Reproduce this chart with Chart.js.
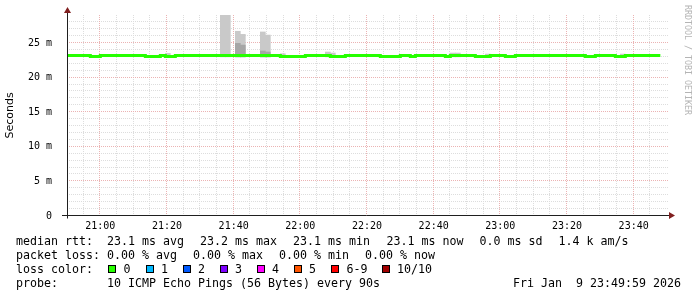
<!DOCTYPE html>
<html><head><meta charset="utf-8">
<script src="https://cdn.jsdelivr.net/npm/chart.js@4/dist/chart.umd.min.js"></script>
<style>
html,body{margin:0;padding:0;background:#fff;}
#wrap{position:relative;width:697px;height:297px;overflow:hidden;background:#fff;}
canvas{position:absolute;left:0;top:0;}
.t{position:absolute;font-family:"DejaVu Sans Mono",monospace;font-size:11.63px;line-height:14px;white-space:pre;color:#000;}
.box{position:absolute;width:6px;height:6px;border:1px solid #000;}
#wm{position:absolute;left:683px;top:5px;writing-mode:vertical-rl;font-family:"DejaVu Sans Mono",monospace;font-size:8.3px;line-height:10px;color:#b4b4b4;white-space:pre;}
</style></head><body>
<div id="wrap"><canvas id="c" width="697" height="297"></canvas>
<div id="wm">RRDTOOL / TOBI OETIKER</div>
<div id="legend"></div>
</div>
<script>
// ---- data (time = minutes since midnight, values in ms) ----
const medianTimes  = [1250, 1257, 1260, 1273.5, 1278, 1279.5, 1282.5, 1314, 1321.5, 1329, 1333.5, 1344, 1350, 1353, 1354.5, 1363.5, 1365, 1372.5, 1377, 1381.5, 1384.5, 1405.5, 1408.5, 1414.5, 1417.5, 1428];
const medianValues = [23.19, 23.05, 23.19, 23.05, 23.19, 23.05, 23.19, 23.05, 23.19, 23.05, 23.19, 23.05, 23.19, 23.05, 23.19, 23.05, 23.19, 23.05, 23.19, 23.05, 23.19, 23.05, 23.19, 23.05, 23.19, 23.19];

const smokeTimes = [1280.25, 1296.75, 1298.25, 1301.25, 1302.75, 1308.75, 1310.25, 1314.75, 1328.25, 1329.75, 1365.75, 1367.25, 1376.25, 1416.75];
const smokeLow   = [23.0, 23.0, 23.0, 23.0, 23.0, 23.0, 23.0, 23.0, 23.0, 23.0, 23.0, 23.0, 23.0, 23.0];
const smokeHigh  = [23.5, 29.4, 29.4, 26.7, 26.25, 26.6, 26.15, 23.45, 23.7, 23.55, 23.55, 23.55, 23.4, 23.4];
const smokeMid   = [null, null, null, 24.95, 24.7, 23.85, 23.7, null, null, null, null, null, null, null];

const xTickValues = [1260, 1280, 1300, 1320, 1340, 1360, 1380, 1400, 1420];
const xTickLabels = ['21:00', '21:20', '21:40', '22:00', '22:20', '22:40', '23:00', '23:20', '23:40'];
const yTickValues = [0, 5, 10, 15, 20, 25];
const yTickLabels = ['0', '5 m', '10 m', '15 m', '20 m', '25 m'];

const rttLabels  = ['median rtt:', '23.1 ms avg', '23.2 ms max', '23.1 ms min', '23.1 ms now', '0.0 ms sd', '1.4 k am/s'];
const lossLabels = ['packet loss:', '0.00 % avg', '0.00 % max', '0.00 % min', '0.00 % now'];
const lossColorNames  = ['0', '1', '2', '3', '4', '5', '6-9', '10/10'];
const lossColorValues = ['#26ff00', '#00b8ff', '#0059ff', '#7e00ff', '#ff00ff', '#ff5500', '#ff0000', '#a10000'];
const probeLabels = ['probe:', '10 ICMP Echo Pings (56 Bytes) every 90s'];
const dateLabel = 'Fri Jan  9 23:49:59 2026';

// ---- layout (pixel positions of legend items) ----
const rttX  = [16, 107, 200, 293, 386.5, 479.5, 558.5];
const lossX = [16, 107, 193, 279, 365];
const boxX  = [108, 145.5, 182.5, 219.5, 256.5, 293.5, 331, 381.5];
const rowTop = [234, 248, 262, 276];

const MINOR = '#dddddd', MAJOR = '#ebb3b3', AXIS = '#1f1f1f', ARROW = '#801f1f';

// ---- legend as HTML text ----
const lg = document.getElementById('legend');
function addText(txt, x, y, right) {
  const d = document.createElement('div');
  d.className = 't'; d.textContent = txt; d.style.top = y + 'px';
  if (right) d.style.right = (697 - x) + 'px'; else d.style.left = x + 'px';
  lg.appendChild(d);
}
rttLabels.forEach((s, i) => addText(s, rttX[i], rowTop[0]));
lossLabels.forEach((s, i) => addText(s, lossX[i], rowTop[1]));
addText('loss color:', 16, rowTop[2]);
lossColorNames.forEach((s, i) => {
  const b = document.createElement('div');
  b.className = 'box'; b.style.left = boxX[i] + 'px'; b.style.top = (rowTop[2] + 3) + 'px';
  b.style.background = lossColorValues[i];
  lg.appendChild(b);
  addText(s, boxX[i] + 15.5, rowTop[2]);
});
addText(probeLabels[0], 16, rowTop[3]);
addText(probeLabels[1], 107, rowTop[3]);
addText(dateLabel, 681, rowTop[3], true);

// ---- chart ----
const medianPts = medianTimes.map((t, i) => ({x: t, y: medianValues[i]}));
const lightPts = smokeTimes.map((t, i) => ({x: t, y: [smokeLow[i], smokeHigh[i]]}));
const darkPts = smokeTimes.map((t, i) => ({x: t, y: smokeMid[i] === null ? null : [smokeLow[i], smokeMid[i]]}));

const rrdPlugin = {
  id: 'rrd',
  beforeDatasetsDraw(chart) {
    const {ctx, chartArea: a, scales: {x, y}} = chart;
    ctx.save();
    ctx.lineWidth = 1;
    ctx.setLineDash([1, 1]);
    const pass = (major) => {
      ctx.strokeStyle = major ? MAJOR : MINOR;
      for (const t of y.ticks) {
        const v = t.value;
        if (!Number.isInteger(v) || v <= y.min) continue;
        if ((v % 5 === 0) !== major) continue;
        const py = Math.round(y.getPixelForValue(v)) - 0.5;
        ctx.beginPath(); ctx.moveTo(a.left, py); ctx.lineTo(a.right + 1, py); ctx.stroke();
      }
      for (const t of x.ticks) {
        const v = t.value;
        if (v <= x.min || v >= x.max) continue;
        if ((v % 20 === 0) !== major) continue;
        const px = Math.round(x.getPixelForValue(v)) - 0.5;
        ctx.beginPath(); ctx.moveTo(px, a.top); ctx.lineTo(px, a.bottom); ctx.stroke();
      }
    };
    pass(false); pass(true);
    ctx.restore();
  },
  afterDatasetsDraw(chart) {
    const {ctx, chartArea: a, scales: {x, y}} = chart;
    const ox = Math.round(x.getPixelForValue(x.min)) + 0.5;
    const oy = Math.round(y.getPixelForValue(0)) - 0.5;
    ctx.save();
    ctx.strokeStyle = AXIS; ctx.lineWidth = 1;
    ctx.beginPath();
    ctx.moveTo(a.left - 5, oy); ctx.lineTo(a.right + 4, oy);
    ctx.moveTo(ox, oy + 3); ctx.lineTo(ox, a.top - 4);
    ctx.stroke();
    ctx.fillStyle = ARROW;
    ctx.beginPath();
    ctx.moveTo(ox - 3.5, a.top - 2); ctx.lineTo(ox + 3.5, a.top - 2); ctx.lineTo(ox, a.top - 8); ctx.closePath(); ctx.fill();
    ctx.beginPath();
    ctx.moveTo(a.right + 2, oy - 3.5); ctx.lineTo(a.right + 2, oy + 3.5); ctx.lineTo(a.right + 8, oy); ctx.closePath(); ctx.fill();
    ctx.restore();
  }
};

new Chart(document.getElementById('c'), {
  type: 'bar',
  data: {
    datasets: [
      {type: 'line', label: 'median rtt', data: medianPts, borderColor: '#26ff00', backgroundColor: '#26ff00',
       borderWidth: 3, stepped: true, pointRadius: 0, fill: false, order: 0, borderJoinStyle: 'miter', borderCapStyle: 'butt'},
      {type: 'bar', label: 'smoke dark', data: darkPts, backgroundColor: '#a6a6a6', borderWidth: 0,
       grouped: false, barPercentage: 1, categoryPercentage: 1, order: 1},
      {type: 'bar', label: 'smoke light', data: lightPts, backgroundColor: '#c9c9c9', borderWidth: 0,
       grouped: false, barPercentage: 1, categoryPercentage: 1, order: 2}
    ]
  },
  options: {
    responsive: false, animation: false, devicePixelRatio: 1,
    layout: {padding: {left: 0, right: 30, top: 15, bottom: 61}},
    plugins: {legend: {display: false}, tooltip: {enabled: false}},
    scales: {
      x: {
        type: 'linear', min: 1250, max: 1430, offset: false,
        grid: {display: false}, border: {display: false},
        ticks: {
          stepSize: 5, autoSkip: false, maxRotation: 0, minRotation: 0, padding: -4, color: '#000',
          font: {family: 'DejaVu Sans Mono', size: 10},
          callback: (v) => { const i = xTickValues.indexOf(v); return i < 0 ? '' : xTickLabels[i]; }
        },
        afterFit: (s) => { s.height = 20; }
      },
      y: {
        min: 0, max: 29.05,
        grid: {display: false}, border: {display: false},
        ticks: {
          stepSize: 1, autoSkip: false, padding: 7, color: '#000',
          font: {family: 'DejaVu Sans Mono', size: 10},
          callback: (v) => { const i = yTickValues.indexOf(v); return i < 0 ? '' : yTickLabels[i]; }
        },
        title: {display: true, text: 'Seconds', color: '#000', font: {family: 'DejaVu Sans', size: 11}, padding: {top: 4, bottom: 4}},
        afterFit: (s) => { s.width = 67; }
      }
    }
  },
  plugins: [rrdPlugin]
});
</script>
</body></html>
